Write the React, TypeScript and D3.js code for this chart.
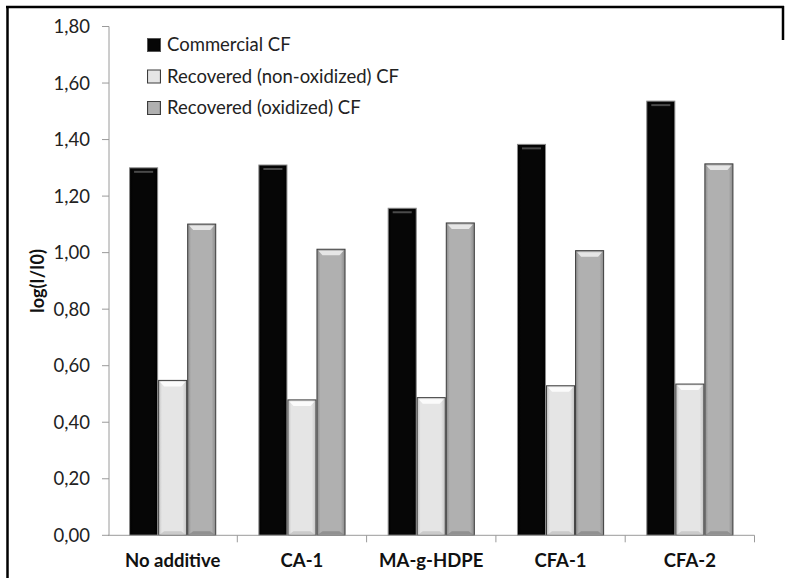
import React from "react";
import * as d3 from "d3";

const categories = ["No additive", "CA-1", "MA-g-HDPE", "CFA-1", "CFA-2"];
const seriesNames = ["Commercial CF", "Recovered (non-oxidized) CF", "Recovered (oxidized) CF"];
const commercial = [1.3, 1.31, 1.157, 1.383, 1.536];
const nonOxidized = [0.548, 0.479, 0.487, 0.529, 0.535];
const oxidized = [1.101, 1.012, 1.105, 1.007, 1.314];
const yTicks = [0, 0.2, 0.4, 0.6, 0.8, 1.0, 1.2, 1.4, 1.6, 1.8];

const seriesValues = [commercial, nonOxidized, oxidized];
const seriesStyle = [
  { base: "#060606", edge: "#000000", stroke: "#8a8a8a", hi: "#4a4a4a" },
  { base: "#e5e5e5", edge: "#c4c4c4", stroke: "#3c3c3c", hi: "#ffffff" },
  { base: "#b0b0b0", edge: "#8a8a8a", stroke: "#3c3c3c", hi: "#f0f0f0" },
];

const W = 790;
const H = 578;
const FONT = "Lato, 'Open Sans', sans-serif";

export default function App() {
  const x0 = d3.scaleBand<string>().domain(categories).range([108, 754.5]).padding(0);
  const bw = x0.bandwidth();
  const gap = bw * 0.163;
  const x1 = d3.scaleBand<string>().domain(seriesNames).range([gap, bw - gap]).padding(0);
  const y = d3.scaleLinear().domain([0, 1.8]).range([535.3, 26.5]);
  const fmt = (v: number) => d3.format(".2f")(v).replace(".", ",");
  const barW = x1.bandwidth();

  return (
    <svg width={W} height={H} style={{ position: "absolute", left: 0, top: 0, background: "#fff" }}>
      <defs>
        {seriesStyle.map((s, i) => (
          <linearGradient key={i} id={`g${i}`} x1="0" x2="1" y1="0" y2="0">
            <stop offset="0%" stopColor={s.edge} />
            <stop offset="12%" stopColor={s.base} />
            <stop offset="85%" stopColor={s.base} />
            <stop offset="100%" stopColor={s.edge} />
          </linearGradient>
        ))}
      </defs>
      <rect x={0} y={0} width={W} height={H} fill="#fff" />
      {/* frame */}
      <line x1={7.5} y1={6} x2={7.5} y2={H} stroke="#000" strokeWidth={2.5} />
      <line x1={6} y1={7} x2={784} y2={7} stroke="#000" strokeWidth={2.5} />
      <line x1={783} y1={6} x2={783} y2={40} stroke="#000" strokeWidth={2.5} />

      {/* y axis */}
      <line x1={109} y1={y(1.8)} x2={109} y2={y(0)} stroke="#9a9a9a" strokeWidth={1} />
      {yTicks.map((t) => (
        <g key={t}>
          <line x1={102} x2={109} y1={y(t)} y2={y(t)} stroke="#9a9a9a" strokeWidth={1} />
          <text x={90} y={y(t)} dy="0.36em" textAnchor="end" fontFamily={FONT} fontSize={18.5} fill="#222">
            {fmt(t)}
          </text>
        </g>
      ))}
      <text
        transform={`translate(${44},${281}) rotate(-90)`}
        textAnchor="middle"
        fontFamily={FONT}
        fontWeight="bold"
        fontSize={18}
        fill="#111"
      >
        log(I/I0)
      </text>

      {/* bars */}
      {categories.map((c, ci) => (
        <g key={c} transform={`translate(${x0(c)},0)`}>
          {seriesNames.map((s, si) => {
            const v = seriesValues[si][ci];
            const bx = x1(s) as number;
            const top = y(v);
            const h = y(0) - top;
            const st = seriesStyle[si];
            return (
              <g key={s}>
                <rect x={bx + 0.5} y={top} width={barW - 1} height={h} fill={`url(#g${si})`} stroke={st.stroke} strokeWidth={1} />
                {si === 0 ? (
                  <rect x={bx + 5} y={top + 3} width={barW - 10} height={2} fill={st.hi} />
                ) : (
                  <path
                    d={`M${bx + 2},${top + 1.5} L${bx + barW - 2},${top + 1.5} L${bx + barW - 6},${top + 6} L${bx + 6},${top + 6} Z`}
                    fill={st.hi}
                    opacity={0.85}
                  />
                )}
                {si !== 0 && (
                  <path
                    d={`M${bx + 2},${y(0) - 1} L${bx + barW - 2},${y(0) - 1} L${bx + barW - 6},${y(0) - 4} L${bx + 6},${y(0) - 4} Z`}
                    fill={st.edge}
                    opacity={0.8}
                  />
                )}
              </g>
            );
          })}
        </g>
      ))}

      {/* x axis */}
      <line x1={108} x2={754.5} y1={y(0)} y2={y(0)} stroke="#9a9a9a" strokeWidth={1} />
      {categories.map((c) => (
        <line key={c} x1={(x0(c) as number) + bw} x2={(x0(c) as number) + bw} y1={y(0)} y2={y(0) + 7} stroke="#9a9a9a" />
      ))}
      {categories.map((c) => (
        <text
          key={c}
          x={(x0(c) as number) + bw / 2}
          y={567}
          textAnchor="middle"
          fontFamily={FONT}
          fontWeight="bold"
          fontSize={18.5}
          fill="#111"
        >
          {c}
        </text>
      ))}

      {/* legend */}
      {seriesNames.map((s, i) => {
        const ly = 45 + i * 31.5;
        return (
          <g key={s}>
            <rect x={147.5} y={ly - 6.5} width={13} height={13} fill={`url(#g${i})`} stroke={i === 0 ? "#555" : "#3c3c3c"} />
            <text x={167} y={ly} dy="0.35em" fontFamily={FONT} fontSize={18.5} fill="#222">
              {s}
            </text>
          </g>
        );
      })}
    </svg>
  );
}
